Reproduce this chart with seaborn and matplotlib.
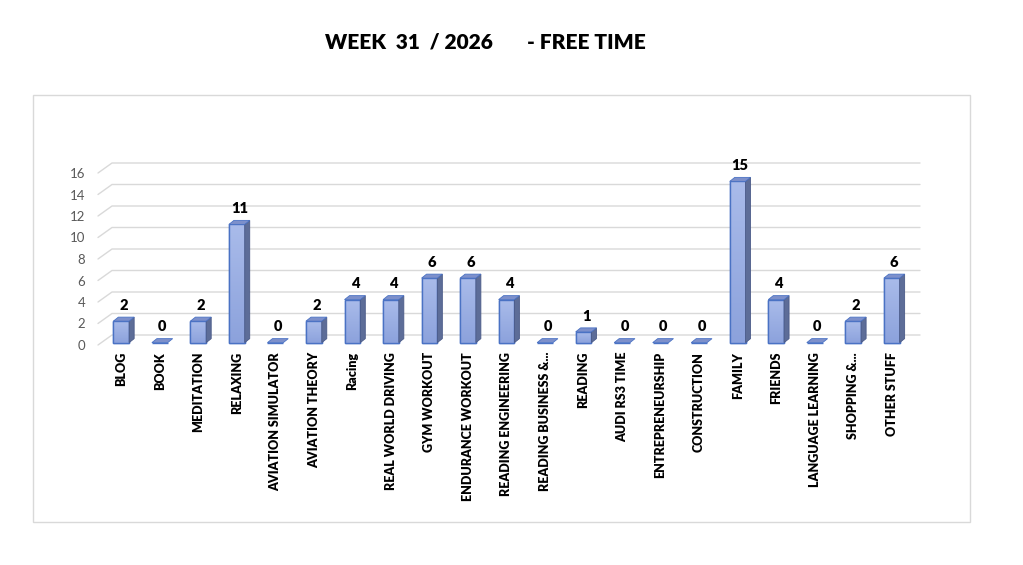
import numpy as np
import pandas as pd
import matplotlib
matplotlib.use("Agg")
import matplotlib.pyplot as plt
import seaborn as sns
from matplotlib.patches import Polygon, Rectangle

# data
categories = ["BLOG", "BOOK", "MEDITATION", "RELAXING", "AVIATION SIMULATOR",
              "AVIATION THEORY", "Racing", "REAL WORLD DRIVING", "GYM WORKOUT",
              "ENDURANCE WORKOUT", "READING ENGINEERING", "READING BUSINESS &...",
              "READING", "AUDI RS3 TIME", "ENTREPRENEURSHIP", "CONSTRUCTION",
              "FAMILY", "FRIENDS", "LANGUAGE LEARNING", "SHOPPING &...", "OTHER STUFF"]
hours = [2, 0, 2, 11, 0, 2, 4, 4, 6, 6, 4, 0, 1, 0, 0, 0, 15, 4, 0, 2, 6]
y_ticks = [0, 2, 4, 6, 8, 10, 12, 14, 16]

df = pd.DataFrame({"category": categories, "hours": hours})

sns.set_theme(style="white")
plt.rcParams["font.family"] = ["Lato", "DejaVu Sans"]

W, H = 1023, 565
fig = plt.figure(figsize=(W / 100, H / 100), dpi=100)

# plot area in pixels (from the reference)
ax_l, ax_r, ax_b, ax_t = 102, 911, 345, 173
ax = fig.add_axes([ax_l / W, (H - ax_b) / H, (ax_r - ax_l) / W, (ax_b - ax_t) / H])

n = len(categories)
px_x = (ax_r - ax_l) / n          # pixels per category
px_y = (ax_b - ax_t) / 16.0       # pixels per unit

# pseudo 3d depths (pixels -> data units)
bar_dx, bar_dy = 5 / px_x, 4 / px_y
wall_dx, wall_dy = 14 / px_x, 10 / px_y
base = 0.22
bar_w = 0.41

# back wall gridlines with a short diagonal on the left
x_front = -0.5 - 4 / px_x
x_end = -0.5 + (920 - ax_l) / px_x
for t in y_ticks:
    ax.plot([x_front, x_front + wall_dx, x_end], [t, t + wall_dy, t + wall_dy],
            color="#d9d9d9", lw=1, zorder=1, clip_on=False)

front_col = "#9cb0e4"
edge_col = "#4a72c4"
side_col = "#5d6d98"
top_col = "#7d90cb"

sns.barplot(data=df, x="category", y="hours", bottom=base, width=bar_w,
            color=front_col, edgecolor=edge_col, linewidth=1.0, saturation=1,
            ax=ax, zorder=3)

grad = np.linspace(0, 1, 64).reshape(-1, 1)
cmap = matplotlib.colors.LinearSegmentedColormap.from_list("g", ["#a9bbea", "#8ca2dc"])

for i, (patch, v) in enumerate(zip(ax.patches, hours)):
    x0 = patch.get_x()
    x1 = x0 + patch.get_width()
    y0 = base
    y1 = base + v
    if v > 0:
        im = ax.imshow(grad, extent=[x0, x1, y0, y1], aspect="auto", cmap=cmap,
                       origin="upper", zorder=3.1)
        im.set_clip_path(patch)
        # outline again on top of gradient
        ax.add_patch(Rectangle((x0, y0), x1 - x0, v, fill=False, edgecolor=edge_col,
                               lw=1.0, zorder=3.2))
        side = Polygon([[x1, y0], [x1 + bar_dx, y0 + bar_dy], [x1 + bar_dx, y1 + bar_dy], [x1, y1]],
                       closed=True, facecolor=side_col, edgecolor="#4a5a88", lw=0.6, zorder=3.3)
        ax.add_patch(side)
    top = Polygon([[x0, y1], [x1, y1], [x1 + bar_dx, y1 + bar_dy], [x0 + bar_dx, y1 + bar_dy]],
                  closed=True, facecolor=top_col, edgecolor=edge_col, lw=0.6, zorder=3.4)
    ax.add_patch(top)
    ax.text((x0 + x1) / 2 + bar_dx / 2, y1 + bar_dy + 0.5, str(v), ha="center", va="bottom",
            fontsize=10.5, fontweight="heavy", color="black", zorder=5)

ax.set_xlim(-0.5, n - 0.5)
ax.set_ylim(0, 16)
ax.set_yticks(y_ticks)
ax.set_xlabel("")
ax.set_ylabel("")
for s in ax.spines.values():
    s.set_visible(False)
ax.tick_params(axis="y", length=0, pad=12, labelsize=9.5, labelcolor="#595959")
ax.tick_params(axis="x", length=0, pad=5)
ax.set_xticks(range(n))
ax.set_xticklabels(categories, rotation=90, fontsize=9, fontweight="heavy", color="black",
                   va="top", ha="center")
ax.patch.set_alpha(0)

# chart border
fig.patches.append(Rectangle((33 / W, (H - 522) / H), 937 / W, 427 / H, transform=fig.transFigure,
                             fill=False, edgecolor="#d9d9d9", lw=1, zorder=0))

fig.text(485 / W, 1 - 42 / H, "WEEK  31  / 2026       - FREE TIME", ha="center", va="center",
         fontsize=15, fontweight="heavy", color="black")

fig.savefig("out.png", dpi=100, facecolor="white")
